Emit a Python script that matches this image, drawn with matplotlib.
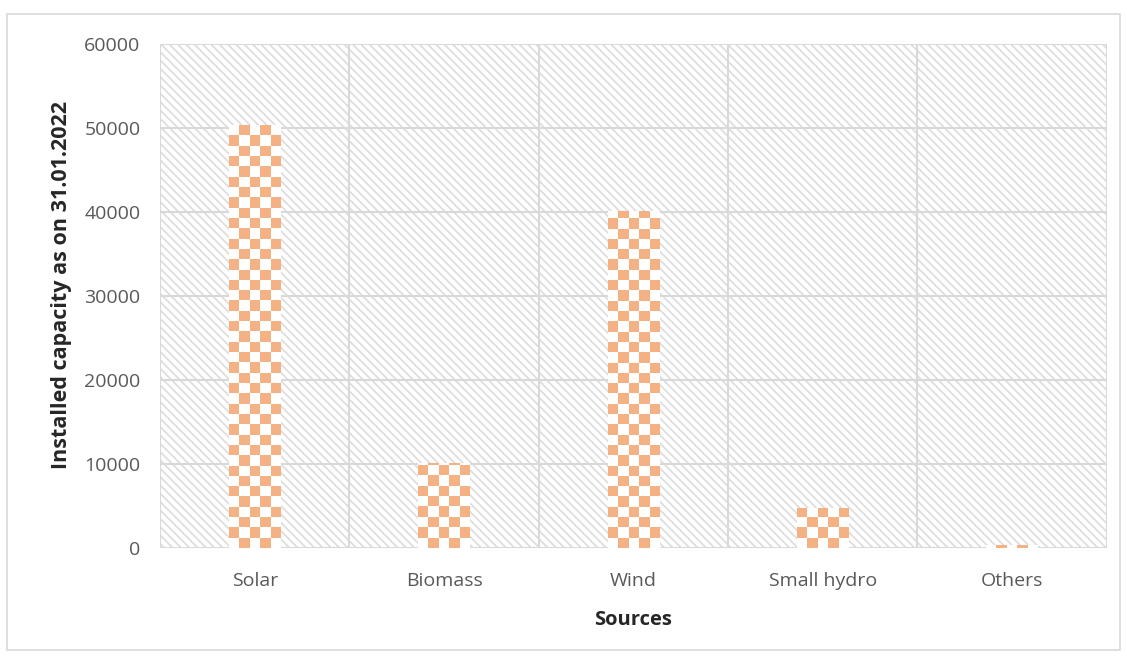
import matplotlib
matplotlib.use("Agg")
import matplotlib.pyplot as plt
import numpy as np
from matplotlib.patches import Rectangle
from matplotlib.colors import ListedColormap

categories = ["Solar", "Biomass", "Wind", "Small hydro", "Others"]
values = [50300, 10150, 40100, 4800, 400]
yticks = [0, 10000, 20000, 30000, 40000, 50000, 60000]

plt.rcParams['font.family'] = ['Open Sans', 'DejaVu Sans']
plt.rcParams['hatch.linewidth'] = 1.3
plt.rcParams['hatch.color'] = '#DEDEDE'

fig = plt.figure(figsize=(11.27, 6.57), dpi=100)
ax = fig.add_axes([0.142, 0.166, 0.840, 0.767])

# outer chart border
fig.patches.append(Rectangle((0.006, 0.011), 0.988, 0.968, transform=fig.transFigure,
                             fill=False, edgecolor='#D9D9D9', linewidth=1.2))

x = np.arange(len(categories))
ax.set_xlim(-0.5, len(categories) - 0.5)
ax.set_ylim(0, 60000)

# hatched plot-area background
bg = Rectangle((0, 0), 1, 1, transform=ax.transAxes, facecolor='white',
               edgecolor='#DEDEDE', hatch='\\\\\\\\', linewidth=0, zorder=0)
ax.add_patch(bg)

# grid
for yv in yticks:
    ax.axhline(yv, color='#D9D9D9', linewidth=1.5, zorder=1)
for xv in np.arange(-0.5, len(categories), 1.0):
    ax.axvline(xv, color='#D9D9D9', linewidth=1.5, zorder=1)

bars = ax.bar(x, values, width=0.27, color='white', edgecolor='none', zorder=2)

# checkerboard texture clipped to each bar
ny, nx = 60, 100
cy = np.arange(ny)[:, None]
cx = np.arange(nx)[None, :]
checker = ((cx + cy) % 2).astype(float)
cmap = ListedColormap(['white', '#F4B183'])
px_w = ax.get_position().width * fig.get_figwidth() * fig.dpi
px_h = ax.get_position().height * fig.get_figheight() * fig.dpi
sq = 10.3
dx = sq * (len(categories)) / px_w
dy = sq * 60000 / px_h
for b in bars:
    x0 = b.get_x()
    ext = [x0, x0 + nx * dx, 0, ny * dy]
    im = ax.imshow(checker, cmap=cmap, extent=ext, origin='lower', aspect='auto',
                   interpolation='nearest', zorder=3)
    im.set_clip_path(b)
ax.set_xlim(-0.5, len(categories) - 0.5)
ax.set_ylim(0, 60000)

for s in ax.spines.values():
    s.set_visible(False)

ax.set_yticks(yticks)
ax.set_yticklabels([str(v) for v in yticks])
ax.set_xticks(x)
ax.set_xticklabels(categories)
ax.tick_params(axis='both', length=0, labelcolor='#595959', labelsize=14)
ax.tick_params(axis='y', pad=14)
ax.tick_params(axis='x', pad=17)

ax.set_ylabel("Installed capacity as on 31.01.2022", fontsize=15.5, fontweight='bold',
              color='#262626')
ax.yaxis.set_label_coords(-0.093, 0.522)
ax.set_xlabel("Sources", fontsize=14.5, fontweight='bold', color='#262626', labelpad=15)

fig.savefig("out.png", dpi=100)
